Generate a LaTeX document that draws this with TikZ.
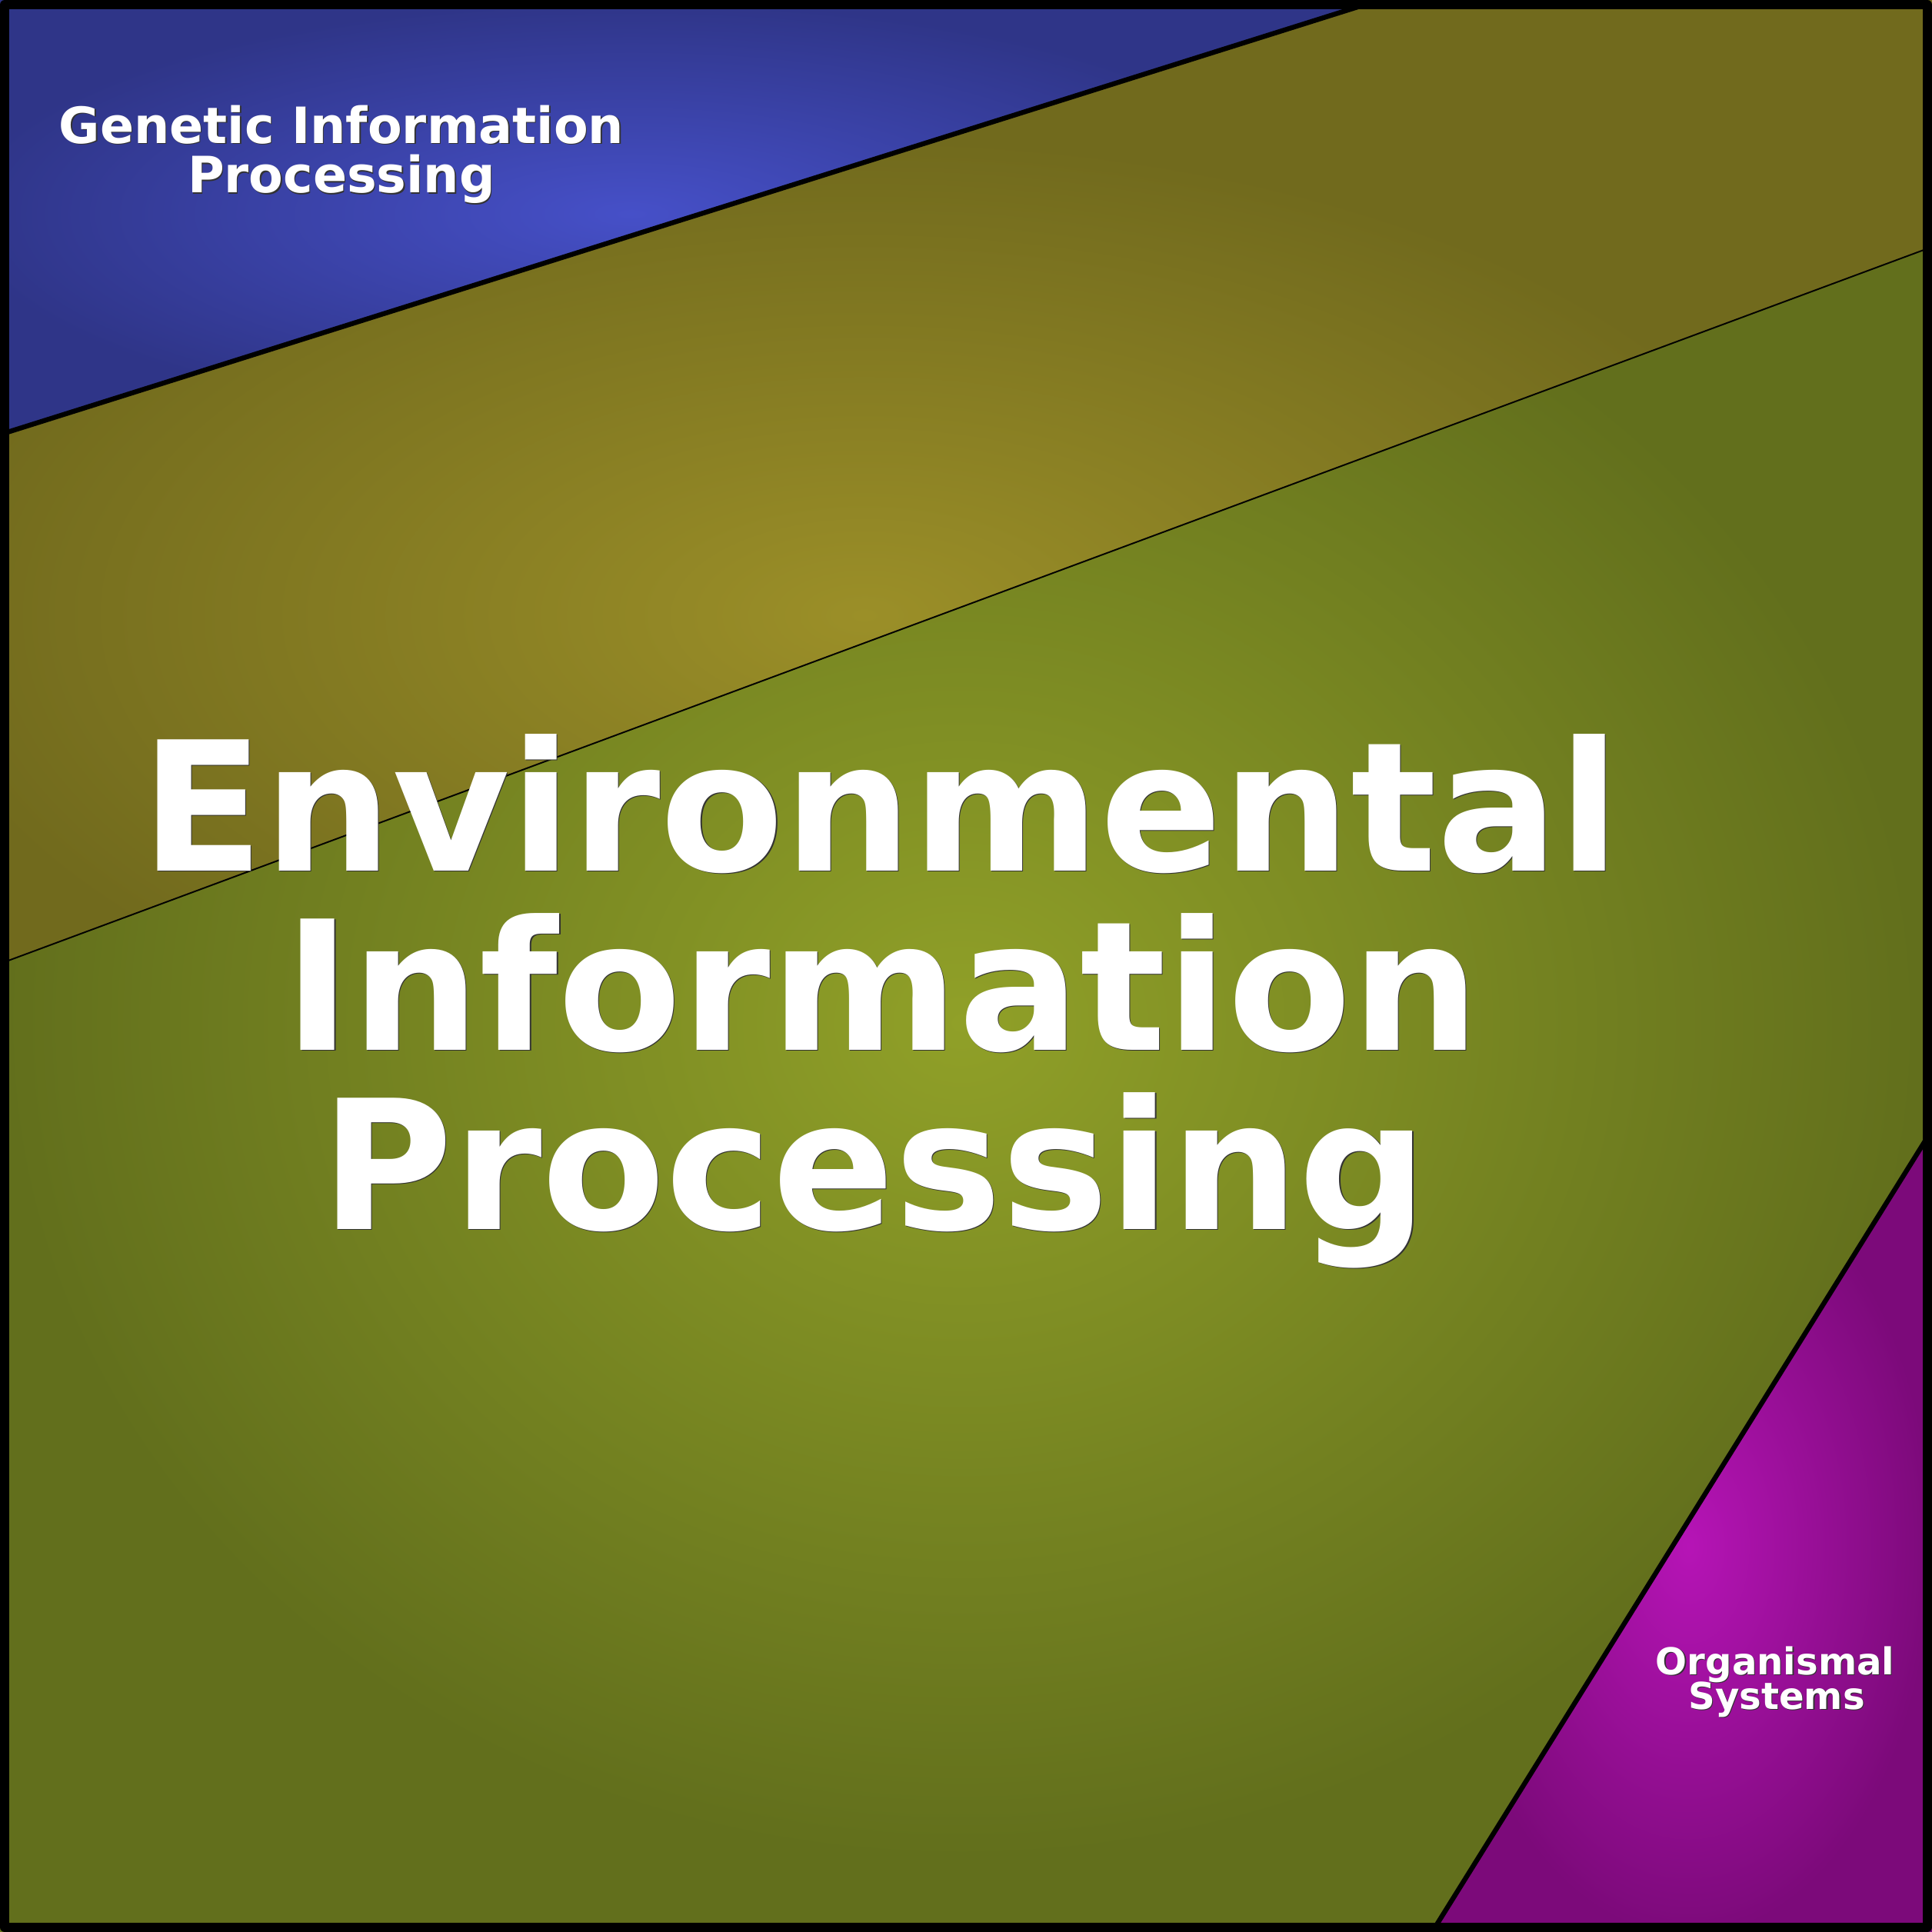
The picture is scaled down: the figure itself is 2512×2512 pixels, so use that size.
\documentclass[tikz,border=0pt]{standalone}
\usepackage{fontspec}
\setmainfont{DejaVu Sans}
\definecolor{gipIn}{HTML}{4650C8}
\definecolor{gipOut}{HTML}{2F3588}
\definecolor{eipIn}{HTML}{9B8F28}
\definecolor{eipOut}{HTML}{716A1D}
\definecolor{envIn}{HTML}{90A028}
\definecolor{envOut}{HTML}{626F1C}
\definecolor{orgIn}{HTML}{B614B6}
\definecolor{orgOut}{HTML}{7C0A7A}
\tikzset{
  frame line/.style={line width=3.4pt, line join=round},
  cut line/.style={line width=1.8pt},
  thin cut/.style={line width=0.55pt},
  area text/.style={anchor=base, text=white, font=\bfseries\fontsize{#1}{#1}\selectfont},
  area shadow/.style={anchor=base, text=black!80, font=\bfseries\fontsize{#1}{#1}\selectfont}
}
\newcommand{\areatext}[5]{%
  \node[area shadow=#4] at (#2+1.2,#3+1.2) {#5};
  \node[area text=#4] (#1) at (#2,#3) {#5};
}
\begin{document}
\begin{tikzpicture}[x=0.01cm,y=-0.01cm]
\useasboundingbox (0,0) rectangle (2512,2512);
\coordinate (gipA) at (1794,0);
\coordinate (gipB) at (0,565);
\coordinate (envA) at (2512,321);
\coordinate (envB) at (0,1253);
\coordinate (orgA) at (2512,1469);
\coordinate (orgB) at (1862,2512);
\begin{scope}
  \clip (0,0) -- (gipA) -- (gipB) -- cycle;
  \fill[gipOut] (0,0) rectangle (2512,2512);
  \shade[inner color=gipIn, outer color=gipOut] (821,278) ellipse (876 and 276);
\end{scope}
\begin{scope}
  \clip (gipB) -- (gipA) -- (2512,0) -- (envA) -- (envB) -- cycle;
  \fill[eipOut] (0,0) rectangle (2512,2512);
  \shade[inner color=eipIn, outer color=eipOut] (1124,800) ellipse (1246 and 620);
\end{scope}
\begin{scope}
  \clip (envB) -- (envA) -- (orgA) -- (orgB) -- (0,2512) -- cycle;
  \fill[envOut] (0,0) rectangle (2512,2512);
  \shade[inner color=envIn, outer color=envOut] (1250,1330) ellipse (1246 and 1088);
\end{scope}
\begin{scope}
  \clip (orgB) -- (orgA) -- (2512,2512) -- cycle;
  \fill[orgOut] (0,0) rectangle (2512,2512);
  \shade[inner color=orgIn, outer color=orgOut] (2195,2010) ellipse (317 and 508);
\end{scope}
\draw[cut line] (gipA) -- (gipB);
\draw[thin cut] (envA) -- (envB);
\draw[cut line] (orgA) -- (orgB);
\draw[frame line] (6,6) rectangle (2506,2506);
\areatext{gip1}{444}{186}{18.5pt}{Genetic Information}
\areatext{gip2}{444}{251}{18.5pt}{Processing}
\areatext{env1}{1145}{1132}{66.6pt}{Environmental}
\areatext{env2}{1147}{1365}{66.6pt}{Information}
\areatext{env3}{1137}{1598}{66.6pt}{Processing}
\areatext{org1}{2308}{2177}{13.7pt}{Organismal}
\areatext{org2}{2310}{2222}{13.7pt}{Systems}
\end{tikzpicture}
\end{document}
